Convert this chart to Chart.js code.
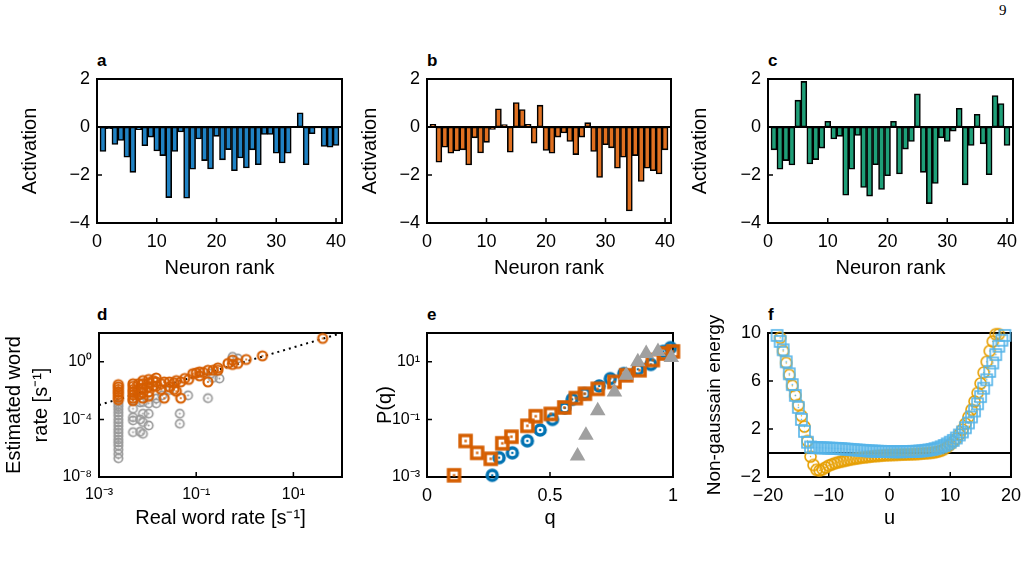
<!DOCTYPE html>
<html>
<head>
<meta charset="utf-8">
<script src="https://cdn.jsdelivr.net/npm/chart.js@4.4.1/dist/chart.umd.min.js"></script>
<style>
  body { margin: 0; background: #fff; width: 1029px; height: 562px; overflow: hidden; position: relative; font-family: "Liberation Sans", Arial, sans-serif; }
  canvas { position: absolute; }
  .lbl { position: absolute; font-weight: bold; font-size: 17px; color: #000; }
  #pageno { position: absolute; left: 999px; top: 2px; font-family: "Liberation Serif", "DejaVu Serif", serif; font-size: 15px; }
</style>
</head>
<body>
<div id="pageno">9</div>
<div class="lbl" style="left:97px;top:51px">a</div>
<div class="lbl" style="left:427px;top:51px">b</div>
<div class="lbl" style="left:768px;top:51px">c</div>
<div class="lbl" style="left:97px;top:305px">d</div>
<div class="lbl" style="left:427px;top:305px">e</div>
<div class="lbl" style="left:768px;top:305px">f</div>
<canvas id="cA"></canvas>
<canvas id="cB"></canvas>
<canvas id="cC"></canvas>
<canvas id="cD"></canvas>
<canvas id="cE"></canvas>
<canvas id="cF"></canvas>
<script>
// ---- data ----
var neuronRank = [1,2,3,4,5,6,7,8,9,10,11,12,13,14,15,16,17,18,19,20,21,22,23,24,25,26,27,28,29,30,31,32,33,34,35,36,37,38,39,40];
var activationA = [-1.02,-0.07,-0.73,-0.56,-1.26,-1.89,-0.11,-0.78,-0.42,-1.0,-1.19,-2.94,-1.02,-0.21,-2.97,-1.76,-0.5,-1.4,-1.75,-0.39,
                   -1.37,-0.94,-1.82,-1.29,-1.71,-0.95,-1.57,-0.31,-0.31,-1.09,-1.5,-1.09,-0.02,0.59,-1.57,-0.28,-0.04,-0.81,-0.84,-0.77];
var activationB = [0.11,-1.47,-0.84,-1.09,-1.0,-0.95,-1.58,-0.45,-1.08,-0.64,-0.1,0.76,0.1,-1.05,1.02,0.73,0.11,-0.67,0.91,-0.98,
                   -1.09,-0.42,-0.25,-0.6,-1.15,-0.42,0.18,-1.02,-2.1,-0.74,-0.87,-1.72,-1.26,-3.5,-1.19,-2.27,-1.72,-1.82,-1.96,-0.95];
var activationC = [-0.95,-1.76,-1.4,-1.58,1.12,1.9,-1.54,-1.36,-0.88,0.24,-0.5,-0.39,-2.84,-1.76,-0.35,-2.52,-2.88,-1.57,-2.6,-2.03,
                   0.24,-1.96,-0.92,-0.6,1.38,-1.89,-3.19,-2.35,-0.45,-0.6,-0.17,0.78,-2.41,-0.77,0.53,-0.7,-1.99,1.31,0.98,-0.77];
var rankTicks = [0, 10, 20, 30, 40];
var activationTicks = [-4, -2, 0, 2];

// d: [real rate, estimated rate]
var wordRateOrange = [
  [0.0025,0.026],[0.0025,0.018],[0.0025,0.012],[0.0025,0.008],[0.0025,0.0055],[0.0025,0.0035],[0.0025,0.0023],
  [0.005,0.03],[0.005,0.02],[0.005,0.012],[0.005,0.008],[0.005,0.005],[0.005,0.003],[0.005,0.002],
  [0.0065,0.03],[0.0065,0.012],[0.0065,0.005],
  [0.008,0.05],[0.008,0.03],[0.008,0.015],[0.008,0.007],[0.008,0.003],
  [0.0105,0.06],[0.0105,0.035],[0.0105,0.018],[0.0105,0.008],[0.0105,0.004],
  [0.013,0.05],[0.013,0.02],[0.015,0.075],[0.015,0.04],[0.015,0.02],
  [0.019,0.03],[0.019,0.012],[0.022,0.04],[0.022,0.003],[0.028,0.04],[0.028,0.018],
  [0.035,0.035],[0.035,0.012],[0.039,0.05],[0.039,0.009],[0.048,0.04],[0.048,0.003],
  [0.058,0.07],[0.07,0.06],[0.085,0.15],[0.1,0.17],[0.117,0.2],[0.117,0.106],[0.14,0.18],
  [0.174,0.26],[0.174,0.04],[0.22,0.26],[0.28,0.38],[0.28,0.26],[0.45,0.77],[0.56,1.3],[0.56,0.65],
  [0.72,0.77],[1.07,1.45],[2.3,2.6],[40,42]
];
var wordRateGray = [
  [0.0025,0.0012],[0.0025,0.0008],[0.0025,0.0005],[0.0025,0.0003],[0.0025,0.00018],[0.0025,0.0001],
  [0.0025,6e-5],[0.0025,3.5e-5],[0.0025,2e-5],[0.0025,1.2e-5],[0.0025,7e-6],[0.0025,4e-6],
  [0.0025,2.5e-6],[0.0025,1.5e-6],[0.0025,8e-7],[0.0025,4e-7],[0.0025,2e-7],
  [0.005,0.0021],[0.005,0.00055],[0.005,0.00014],[0.005,8.5e-5],[0.005,1.3e-5],
  [0.007,0.0015],[0.007,0.0001],[0.007,1.4e-5],
  [0.008,0.0016],[0.008,0.00025],[0.008,6.5e-5],[0.008,1e-5],
  [0.0105,0.0013],[0.0105,0.00025],[0.0105,3.8e-5],
  [0.015,0.0013],[0.015,0.0028],[0.02,0.0047],[0.028,0.011],
  [0.046,0.00025],[0.046,5e-5],[0.068,0.0047],[0.174,0.003],
  [0.2,0.15],[0.22,0.077],[0.3,0.069],[0.56,2.2],[0.72,1.7]
];
var identityLine = [[0.001,0.001],[100,100]];
var rateTicksX = [0.001, 0.1, 10];
var rateTicksY = [1e-8, 1e-4, 1];

// e: [q, P(q)]
var pqBlue = [[0.265,1.15e-3],[0.293,4.7e-3],[0.347,6.9e-3],[0.408,0.018],[0.46,0.043],[0.51,0.10],[0.56,0.25],
  [0.59,0.5],[0.64,0.78],[0.70,1.45],[0.745,2.6],[0.80,3.9],[0.857,5.5],[0.91,8.1],[0.96,23],[0.99,31]];
var pqOrange = [[0.11,1.15e-3],[0.157,0.0178],[0.204,6.9e-3],[0.259,4.3e-3],[0.306,0.0148],[0.343,0.025],[0.408,0.06],
  [0.442,0.129],[0.503,0.155],[0.558,0.26],[0.605,0.55],[0.642,0.78],[0.694,1.15],[0.762,2.0],[0.81,3.4],
  [0.864,5.1],[0.918,11.5],[0.966,19.5],[1.0,23]];
var pqGray = [[0.612,5.4e-3],[0.646,0.028],[0.694,0.2],[0.762,0.9],[0.81,3.4],[0.857,10],[0.891,19.5],[0.939,23],[0.993,14]];
var qTicks = [0, 0.5, 1];
var pTicks = [1e-3, 1e-1, 10];

// f: energy vs u
var uBlue = [-18.5,-18,-17.5,-17,-16.5,-16,-15.5,-15,-14.5,-14,-13.5,-13,-12.5,-12,-11.5,-11,-10.5,-10,-9.5,-9,
  -8.5,-8,-7.5,-7,-6.5,-6,-5.5,-5,-4.5,-4,-3.5,-3,-2.5,-2,-1.5,-1,-0.5,0,0.5,1,1.5,2,2.5,3,3.5,4,4.5,5,5.5,6,
  6.5,7,7.5,8,8.5,9,9.5,10,10.5,11,11.5,12,12.5,13,13.5,14,14.5,15,15.5,16,16.5,17,17.5,18,18.5,19];
var energyBlue = [9.8,9.3,8.6,7.6,6.6,5.7,4.8,3.8,2.8,1.8,0.9,0.5,0.45,0.45,0.44,0.43,0.42,0.41,0.4,0.39,
  0.38,0.36,0.34,0.32,0.3,0.28,0.26,0.24,0.22,0.2,0.18,0.17,0.16,0.15,0.14,0.13,0.12,0.12,0.11,0.11,0.11,0.11,0.12,0.12,0.13,0.14,0.15,0.17,0.19,0.22,
  0.26,0.3,0.36,0.43,0.52,0.63,0.76,0.9,1.05,1.25,1.5,1.75,2.1,2.5,3.0,3.5,4.1,4.7,5.4,6.1,6.8,7.5,8.2,8.9,9.4,9.8];
var uOrange = [-18,-17.5,-17,-16.5,-16,-15.5,-15,-14.5,-14,-13.5,-13,-12.5,-12,-11.5,-11,-10.5,-10,-9.5,-9,-8.5,
  -8,-7.5,-7,-6.5,-6,-5.5,-5,-4.5,-4,-3.5,-3,-2.5,-2,-1.5,-1,-0.5,0,0.5,1,1.5,2,2.5,3,3.5,4,4.5,5,5.5,6,6.5,
  7,7.5,8,8.5,9,9.5,10,10.5,11,11.5,12,12.5,13,13.5,14,14.5,15,15.5,16,16.5,17,17.5,18];
var energyOrange = [9.6,8.5,7.5,6.5,5.6,4.8,4.0,3.1,2.2,1.0,-0.3,-1.0,-1.4,-1.45,-1.35,-1.2,-1.05,-0.95,-0.85,-0.78,
  -0.72,-0.66,-0.6,-0.55,-0.5,-0.46,-0.42,-0.38,-0.35,-0.32,-0.29,-0.26,-0.24,-0.22,-0.2,-0.18,-0.17,-0.16,-0.15,-0.14,-0.13,-0.12,-0.11,-0.1,-0.09,-0.08,-0.06,-0.04,-0.02,0.0,
  0.03,0.07,0.12,0.2,0.33,0.5,0.7,0.95,1.2,1.55,1.95,2.45,3.0,3.6,4.3,5.0,5.8,6.7,7.6,8.5,9.3,9.9,9.9];
var uTicks = [-20, -10, 0, 10, 20];
var energyTicks = [-2, 2, 6, 10];

// ---- helpers ----
var FONT = '"Liberation Sans", Arial, sans-serif';
var SUP = {'-':'\u207B','0':'\u2070','1':'\u00B9','2':'\u00B2','3':'\u00B3','4':'\u2074','5':'\u2075','6':'\u2076','7':'\u2077','8':'\u2078','9':'\u2079'};

function minusFmt(v) { return v < 0 ? '\u2212' + Math.abs(v) : String(v); }
function powFmt(v) {
  var e = String(Math.round(Math.log10(v)));
  return '10' + e.split('').map(function (c) { return SUP[c]; }).join('');
}
function pts(arr) { return arr.map(function (p) { return {x: p[0], y: p[1]}; }); }
function zip(xs, ys) { return xs.map(function (x, i) { return {x: x, y: ys[i]}; }); }

function ring(color, r, lw, dot) {
  var s = Math.ceil(2 * r + lw + 2), c = document.createElement('canvas');
  c.width = c.height = s;
  var g = c.getContext('2d');
  g.strokeStyle = color; g.lineWidth = lw;
  g.beginPath(); g.arc(s / 2, s / 2, r, 0, 2 * Math.PI); g.stroke();
  if (dot) { g.fillStyle = color; g.beginPath(); g.arc(s / 2, s / 2, dot, 0, 2 * Math.PI); g.fill(); }
  return c;
}
function box(color, half, lw, dot) {
  var s = Math.ceil(2 * half + lw + 2), c = document.createElement('canvas');
  c.width = c.height = s;
  var g = c.getContext('2d');
  g.strokeStyle = color; g.lineWidth = lw;
  g.strokeRect(s / 2 - half, s / 2 - half, 2 * half, 2 * half);
  if (dot) { g.fillStyle = color; g.fillRect(s / 2 - dot, s / 2 - dot, 2 * dot, 2 * dot); }
  return c;
}

// frame, inward ticks and zero line
var decor = {
  id: 'decor',
  beforeDatasetsDraw: function (chart, args, o) { if (!o.after) draw(chart, o); },
  afterDatasetsDraw: function (chart, args, o) { if (o.after) draw(chart, o); }
};
function draw(chart, o) {
  var ctx = chart.ctx, a = chart.chartArea, x = chart.scales.x, y = chart.scales.y;
  ctx.save();
  ctx.strokeStyle = '#000';
  ctx.lineWidth = 1.5;
  ctx.beginPath();
  x.ticks.forEach(function (t) { var p = x.getPixelForValue(t.value); ctx.moveTo(p, a.bottom); ctx.lineTo(p, a.bottom - 5); });
  y.ticks.forEach(function (t) { var p = y.getPixelForValue(t.value); ctx.moveTo(a.left, p); ctx.lineTo(a.left + 5, p); });
  ctx.stroke();
  ctx.lineWidth = 2;
  if (o.zero) {
    var z = y.getPixelForValue(0);
    ctx.beginPath(); ctx.moveTo(a.left, z); ctx.lineTo(a.right, z); ctx.stroke();
  }
  ctx.strokeRect(a.left, a.top, a.right - a.left, a.bottom - a.top);
  ctx.restore();
}

function axis(type, min, max, tickVals, fmt, tickSize, tickPad, title, titleFont, titlePad) {
  return {
    type: type, min: min, max: max, offset: false,
    grid: {display: false, drawTicks: false, offset: false},
    border: {display: false},
    afterBuildTicks: function (s) { s.ticks = tickVals.map(function (v) { return {value: v}; }); },
    ticks: {color: '#000', font: {family: FONT, size: tickSize}, padding: tickPad, autoSkip: false, maxRotation: 0,
            callback: function (v) { return fmt(v); }},
    title: {display: true, text: title, color: '#000', font: {family: FONT, size: titleFont.size, lineHeight: titleFont.lh || 1.2}, padding: titlePad}
  };
}

function panel(id, p, datasets, xs, ys, decorOpts, type) {
  var cv = document.getElementById(id);
  cv.width = p.w; cv.height = p.h;
  cv.style.left = p.left + 'px'; cv.style.top = p.top + 'px';
  xs.afterFit = function (s) { s.height = p.top + p.h - p.y1; };
  ys.afterFit = function (s) { s.width = p.x0 - p.left; };
  return new Chart(cv, {
    type: type,
    data: {datasets: datasets},
    options: {
      responsive: false, animation: false, devicePixelRatio: 1,
      layout: {padding: {top: p.y0 - p.top, right: p.left + p.w - p.x1, bottom: 0, left: 0}},
      plugins: {legend: {display: false}, tooltip: {enabled: false}, decor: decorOpts},
      scales: {x: xs, y: ys}
    },
    plugins: [decor]
  });
}

function barPanel(id, p, values, color, titleOffset) {
  var xs = axis('linear', 0, 41, rankTicks, String, 18, 8, 'Neuron rank', {size: 20}, {top: 0, bottom: 10});
  var ys = axis('linear', -4, 2, activationTicks, minusFmt, 18, 7, 'Activation', {size: 20}, {top: titleOffset, bottom: 0});
  return panel(id, p, [{
    data: zip(neuronRank, values),
    backgroundColor: color, borderColor: '#000', borderWidth: 1.6, borderSkipped: false,
    barPercentage: 1, categoryPercentage: 1
  }], xs, ys, {zero: true, after: true}, 'bar');
}

// ---- top row ----
barPanel('cA', {left: 0, top: 40, w: 370, h: 250, x0: 97, y0: 79, x1: 342, y1: 223}, activationA, '#1f82c4', 18);
barPanel('cB', {left: 340, top: 40, w: 360, h: 250, x0: 427, y0: 79, x1: 671, y1: 223}, activationB, '#e07020', 18);
barPanel('cC', {left: 680, top: 40, w: 349, h: 250, x0: 768, y0: 79, x1: 1013, y1: 223}, activationC, '#1e9f78', 8);

// ---- d ----
(function () {
  var xs = axis('logarithmic', 0.001, 100, rateTicksX, powFmt, 16, 8, 'Real word rate [s\u207B\u00B9]', {size: 20}, {top: 0, bottom: 20});
  var ys = axis('logarithmic', 1e-8, 100, rateTicksY, powFmt, 16, 7, ['Estimated word', 'rate [s\u207B\u00B9]'], {size: 20, lh: 1.35}, {top: 1, bottom: 0});
  panel('cD', {left: 0, top: 290, w: 370, h: 260, x0: 99, y0: 333, x1: 342, y1: 477}, [
    {data: pts(wordRateOrange), pointStyle: ring('#D55E00', 4.5, 2.2, 1), pointRadius: 5, clip: false},
    {data: pts(wordRateGray), pointStyle: ring('#9a9a9a', 4.2, 1.7, 1), pointRadius: 5, clip: false},
    {type: 'line', data: pts(identityLine), borderColor: '#000', borderWidth: 2, borderDash: [2, 4], pointRadius: 0}
  ], xs, ys, {}, 'scatter');
})();

// ---- e ----
(function () {
  var xs = axis('linear', 0, 1, qTicks, String, 18, 8, 'q', {size: 20}, {top: 0, bottom: 20});
  var ys = axis('logarithmic', 1e-3, 100, pTicks, powFmt, 16, 7, 'P(q)', {size: 20}, {top: 33, bottom: 0});
  panel('cE', {left: 340, top: 290, w: 360, h: 260, x0: 427, y0: 333, x1: 673, y1: 477}, [
    {data: pts(pqGray), pointStyle: 'triangle', pointRadius: 9, backgroundColor: '#a0a0a0', borderWidth: 0, clip: false},
    {data: pts(pqOrange), pointStyle: box('#D55E00', 5.5, 3.5, 1.2), pointRadius: 7, clip: false},
    {data: pts(pqBlue), pointStyle: ring('#0072B2', 5, 3.5, 1.3), pointRadius: 7, clip: false}
  ], xs, ys, {}, 'scatter');
})();

// ---- f ----
(function () {
  var xs = axis('linear', -20, 20, uTicks, minusFmt, 18, 8, 'u', {size: 20}, {top: 0, bottom: 20});
  var ys = axis('linear', -2, 10, energyTicks, minusFmt, 18, 7, 'Non-gaussain energy', {size: 19}, {top: 23, bottom: 0});
  panel('cF', {left: 680, top: 290, w: 349, h: 260, x0: 768, y0: 333, x1: 1013, y1: 477}, [
    {data: zip(uBlue, energyBlue), pointStyle: box('#56B4E9', 5.5, 1.6, 0.7), pointRadius: 6, clip: false},
    {data: zip(uOrange, energyOrange), pointStyle: ring('#E69F00', 5.5, 1.6, 0.7), pointRadius: 6, clip: false}
  ], xs, ys, {zero: true}, 'scatter');
})();
</script>
</body>
</html>
